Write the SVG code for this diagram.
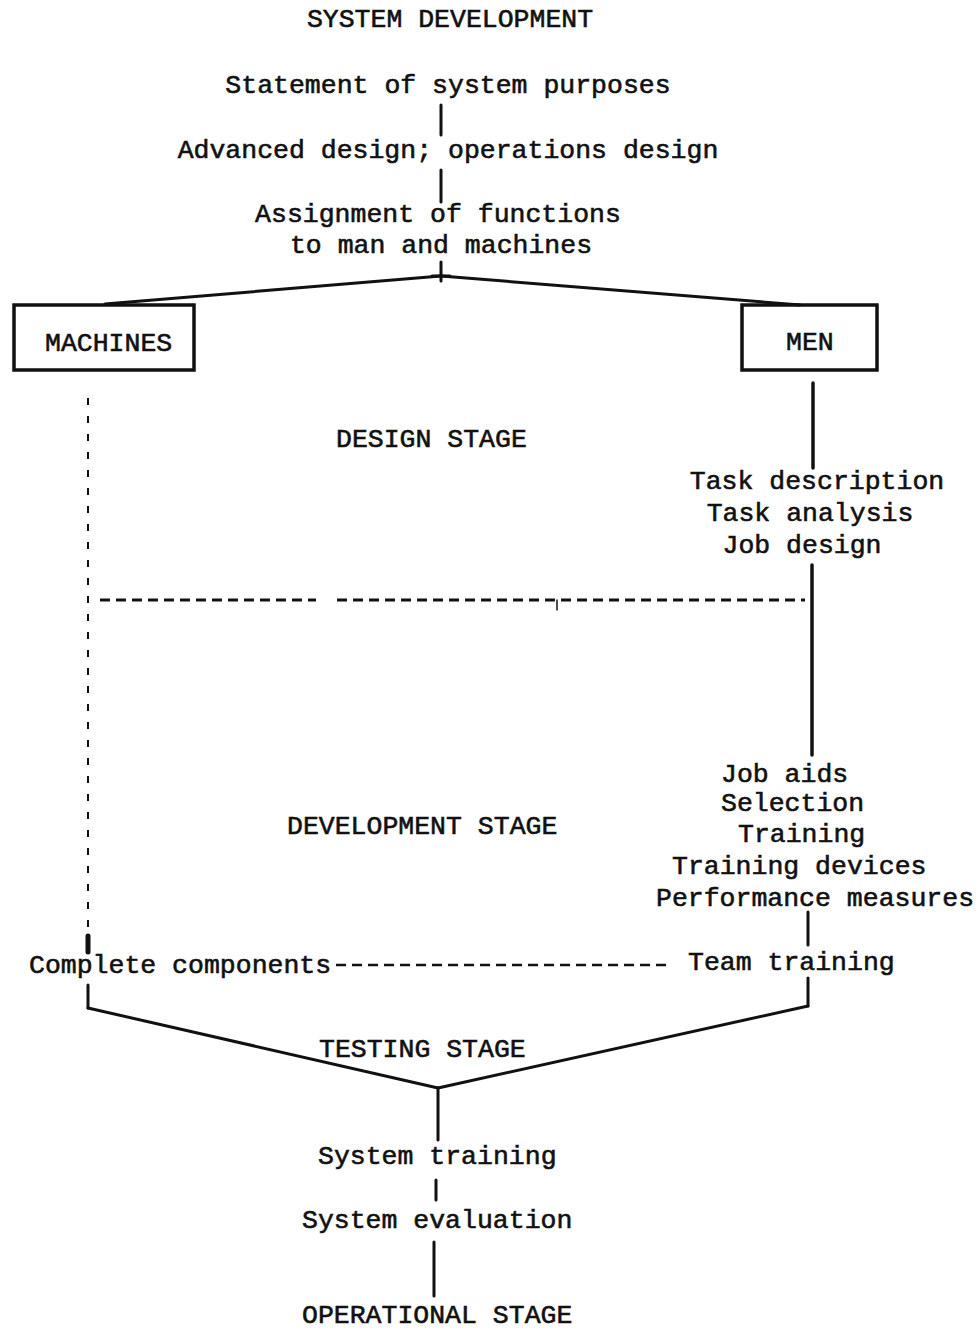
<svg xmlns="http://www.w3.org/2000/svg" width="979" height="1330" viewBox="0 0 979 1330">
<style>
text{font-family:"Liberation Mono","DejaVu Sans Mono",monospace;font-size:26.5px;fill:#111;stroke:#111;stroke-width:0.6;}
.c{text-anchor:middle;}
.ln{stroke:#111;stroke-width:3;fill:none;stroke-linecap:round;}
.box{stroke:#111;stroke-width:3.5;fill:none;}
.dash{stroke:#111;stroke-width:3;fill:none;stroke-dasharray:10 6;}
.dot{stroke:#111;stroke-width:2;fill:none;stroke-dasharray:7 11;}
</style>
<rect width="979" height="1330" fill="#fff"/>
<g id="connectors">
<line class="ln" x1="441" y1="105" x2="441" y2="135"/>
<line class="ln" x1="441" y1="170" x2="441" y2="202"/>
<line class="ln" x1="441" y1="262" x2="441" y2="281"/>
<line class="ln" x1="432" y1="276" x2="450" y2="276"/>
<line class="ln" x1="441" y1="276" x2="105" y2="304"/>
<line class="ln" x1="441" y1="276" x2="800" y2="305"/>
<line class="ln" x1="813" y1="383" x2="813" y2="468" style="stroke-width:3.5"/>
<line class="ln" x1="812" y1="565" x2="812" y2="755" style="stroke-width:3.5"/>
<line class="ln" x1="808" y1="912" x2="808" y2="945"/>
<line class="ln" x1="808" y1="978" x2="808" y2="1006"/>
<line class="ln" x1="808" y1="1006" x2="438" y2="1088"/>
<line class="dot" x1="88" y1="398" x2="88" y2="930"/>
<line class="ln" x1="88" y1="936" x2="88" y2="952" style="stroke-width:5"/>
<line class="ln" x1="88" y1="985" x2="88" y2="1008"/>
<line class="ln" x1="88" y1="1008" x2="438" y2="1088"/>
<line class="ln" x1="438" y1="1088" x2="438" y2="1140"/>
<line class="ln" x1="436" y1="1180" x2="436" y2="1200"/>
<line class="ln" x1="434" y1="1242" x2="434" y2="1296"/>
<line class="dash" x1="100" y1="600" x2="316" y2="600"/>
<line class="dash" x1="337" y1="600" x2="805" y2="600"/>
<line class="ln" x1="557" y1="600" x2="557" y2="610" style="stroke-width:1.5"/>
<line class="dash" x1="336" y1="965" x2="670" y2="965" style="stroke-width:2.5"/>
</g>
<g id="title"><text class="c" x="450" y="27">SYSTEM DEVELOPMENT</text></g>
<g id="statement"><text class="c" x="448" y="93">Statement of system purposes</text></g>
<g id="advanced"><text class="c" x="448" y="158">Advanced design; operations design</text></g>
<g id="assignment"><text class="c" x="438" y="222">Assignment of functions</text><text class="c" x="441" y="253">to man and machines</text></g>
<g id="machines"><rect class="box" x="14" y="305" width="180" height="65"/><text x="45" y="351">MACHINES</text></g>
<g id="men"><rect class="box" x="742" y="305" width="135" height="65"/><text x="786" y="350">MEN</text></g>
<g id="design-stage"><text x="336" y="447">DESIGN STAGE</text></g>
<g id="task"><text class="c" x="817" y="489">Task description</text><text class="c" x="810" y="521">Task analysis</text><text class="c" x="802" y="553">Job design</text></g>
<g id="devstage"><text x="287" y="834">DEVELOPMENT STAGE</text></g>
<g id="jobaids"><text x="721" y="782">Job aids</text><text x="721" y="811">Selection</text><text x="738" y="842">Training</text><text x="672" y="874">Training devices</text><text x="656" y="906">Performance measures</text></g>
<g id="complete"><text x="29" y="973">Complete components</text></g>
<g id="team"><text x="688" y="970">Team training</text></g>
<g id="testing"><text x="319" y="1057">TESTING STAGE</text></g>
<g id="systraining"><text x="318" y="1164">System training</text></g>
<g id="syseval"><text x="302" y="1228">System evaluation</text></g>
<g id="operational"><text x="302" y="1323">OPERATIONAL STAGE</text></g>
</svg>
